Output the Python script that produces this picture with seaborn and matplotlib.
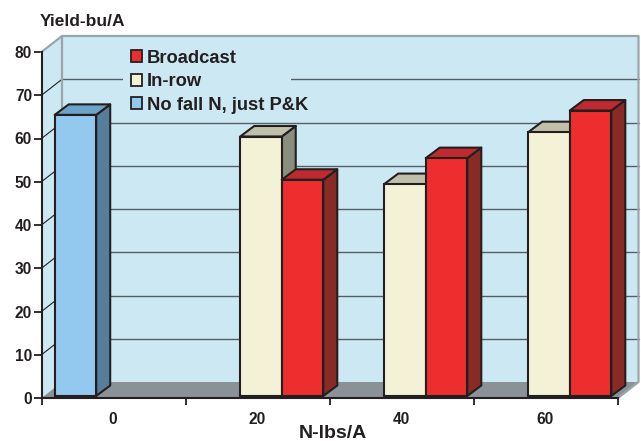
import numpy as np
import pandas as pd
import matplotlib
matplotlib.use('Agg')
import matplotlib.pyplot as plt
from matplotlib.patches import Polygon
from matplotlib.lines import Line2D
from matplotlib.transforms import Affine2D, IdentityTransform
import seaborn as sns

rates = ['0', '20', '40', '60']
series = ['No fall N, just P&K', 'In-row', 'Broadcast']
no_fall = [65, np.nan, np.nan, np.nan]
in_row = [np.nan, 60, 49, 61]
broadcast = [np.nan, 50, 55, 66]
y_ticks = [0, 10, 20, 30, 40, 50, 60, 70, 80]

front = {'No fall N, just P&K': '#93C9EE', 'In-row': '#F3F1D6', 'Broadcast': '#EE2E2E'}
side = {'#93C9EE': '#567D9B', '#F3F1D6': '#8A8E7C', '#EE2E2E': '#8A2A24'}
top = {'#93C9EE': '#6BA3CB', '#F3F1D6': '#BFBFAA', '#EE2E2E': '#BE2A30'}
INK = '#231F20'
WALL = '#CCE9F3'

sns.set_style('white')
plt.rcParams['font.family'] = ['Liberation Sans', 'DejaVu Sans']
plt.rcParams['font.weight'] = 'bold'

df = pd.DataFrame({'rate': rates * 3,
                   'series': np.repeat(series, 4),
                   'yield': no_fall + in_row + broadcast}).dropna()

W, H = 641, 441
fig = plt.figure(figsize=(W / 100, H / 100), dpi=100)
ax = fig.add_axes([41.5 / W, 1 - 398 / H, 576.5 / W, 346 / H])
ax.patch.set_visible(False)

sns.barplot(data=df, x='rate', y='yield', hue='series', order=rates, hue_order=series,
            palette=front, saturation=1, width=0.865, gap=0, errorbar=None,
            edgecolor=INK, linewidth=1.5, ax=ax)

ax.set_ylim(0, 80)
ax.set_xlim(-0.524, 3.479)

# fake 3D box behind the bars, all in pixels from the axes scales
DX, DY = 20.5, 16
to_px = ax.transData.transform
px = IdentityTransform()
x0, x1 = ax.get_xlim()
(lx, by), (rx, ty) = to_px((x0, 0)), to_px((x1, 80))

ax.add_patch(Polygon([(lx, by), (lx + DX, by + DY), (lx + DX, ty + DY), (lx, ty)],
                     closed=True, fc=WALL, ec='none', transform=px, clip_on=False, zorder=0.4))
ax.add_patch(Polygon([(lx + DX, by + DY), (rx + DX, by + DY), (rx + DX, ty + DY), (lx + DX, ty + DY)],
                     closed=True, fc=WALL, ec='none', transform=px, clip_on=False, zorder=0.4))
ax.add_patch(Polygon([(lx, by), (rx, by), (rx + DX, by + DY), (lx + DX, by + DY)],
                     closed=True, fc='#8A9298', ec='none', transform=px, clip_on=False, zorder=0.5))

for v in y_ticks[1:-1]:
    yy = to_px((x0, v))[1]
    ax.add_line(Line2D([lx, lx + DX], [yy, yy + DY], color=INK, lw=0.8, transform=px, clip_on=False, zorder=0.6))
    ax.add_line(Line2D([lx + DX, rx + DX], [yy + DY, yy + DY], color='#556066', lw=1.0, transform=px, clip_on=False, zorder=0.6))
ax.add_line(Line2D([lx, lx + DX, rx + DX, rx + DX, rx],
                   [ty, ty + DY, ty + DY, by + DY, by],
                   color='#9AA5AB', lw=1.6, transform=px, clip_on=False, zorder=0.6))
ax.add_line(Line2D([lx + DX, lx + DX], [by + DY, ty + DY], color='#9AA5AB', lw=1.6, transform=px, clip_on=False, zorder=0.6))

# gap in the 70 line behind the legend
gy = H - 90
ax.add_patch(Polygon([(123, gy), (291, gy), (291, gy + 20), (123, gy + 20)],
                     closed=True, fc=WALL, ec='none', transform=px, clip_on=False, zorder=0.7))

# bars sit 2 px above the axis line, with side and top faces added
LIFT = 2
BAR_DX, BAR_DY = 14, 10.5
bars = [b for c in ax.containers for b in c if np.isfinite(b.get_height()) and b.get_height() > 0]
bars.sort(key=lambda b: b.get_x())
for i, b in enumerate(bars):
    z = 2 + i * 0.1
    b.set_transform(ax.transData + Affine2D().translate(0, LIFT))
    b.set_zorder(z + 0.05)
    col = matplotlib.colors.to_hex(b.get_facecolor())
    col = col.upper()
    (l, bot), (r, t) = to_px((b.get_x(), 0)), to_px((b.get_x() + b.get_width(), b.get_height()))
    bot += LIFT
    t += LIFT
    ax.add_patch(Polygon([(r, bot), (r + BAR_DX, bot + BAR_DY), (r + BAR_DX, t + BAR_DY), (r, t)],
                         closed=True, fc=side[col], ec=INK, lw=1.5, joinstyle='round',
                         transform=px, clip_on=False, zorder=z))
    ax.add_patch(Polygon([(l, t), (r, t), (r + BAR_DX, t + BAR_DY), (l + BAR_DX, t + BAR_DY)],
                         closed=True, fc=top[col], ec=INK, lw=1.5, joinstyle='round',
                         transform=px, clip_on=False, zorder=z))

# axes
sns.despine(ax=ax)
for s in ['left', 'bottom']:
    ax.spines[s].set_color(INK)
    ax.spines[s].set_linewidth(1.5)
    ax.spines[s].set_zorder(3)
ax.set_yticks(y_ticks)
ax.tick_params(axis='y', left=True, length=5.8, width=1.3, color=INK, pad=1, labelsize=11.2, labelcolor=INK)
ax.set_xticks([x0 + i * (x1 - x0) / 4 for i in range(5)])
ax.set_xticklabels([])
ax.set_xticks([i - 0.028 for i in range(len(rates))], labels=rates, minor=True)
ax.tick_params(axis='x', which='major', bottom=True, length=5.2, width=1.3, color=INK)
ax.tick_params(axis='x', which='minor', bottom=False, length=0, pad=10, labelsize=11.2, labelcolor=INK)

ax.set_xlabel('N-lbs/A', fontsize=14, fontweight='bold', color=INK, labelpad=0)
ax.xaxis.set_label_coords(291.5 / 576.5, -27 / 346)
ax.set_ylabel('Yield-bu/A', rotation=0, ha='left', va='center', fontsize=12.5, fontweight='bold', color=INK)
ax.yaxis.set_label_coords(-1.5 / 576.5, 377 / 346)

leg = ax.get_legend()
handles = leg.legend_handles
labels = [t.get_text() for t in leg.get_texts()]
for h in handles:
    h.set_edgecolor(INK)
    h.set_linewidth(1.3)
new_leg = ax.legend(handles[::-1], labels[::-1], loc='upper left',
                    bbox_to_anchor=(85 / 576.5, 1 + 7 / 346), fontsize=13.2, frameon=False,
                    handlelength=0.6, handleheight=0.6, handletextpad=0.27,
                    labelspacing=0.36, borderpad=0.25, borderaxespad=0)
new_leg.set_zorder(1)
for t in new_leg.get_texts():
    t.set_color(INK)

fig.savefig('out.png', dpi=100)
